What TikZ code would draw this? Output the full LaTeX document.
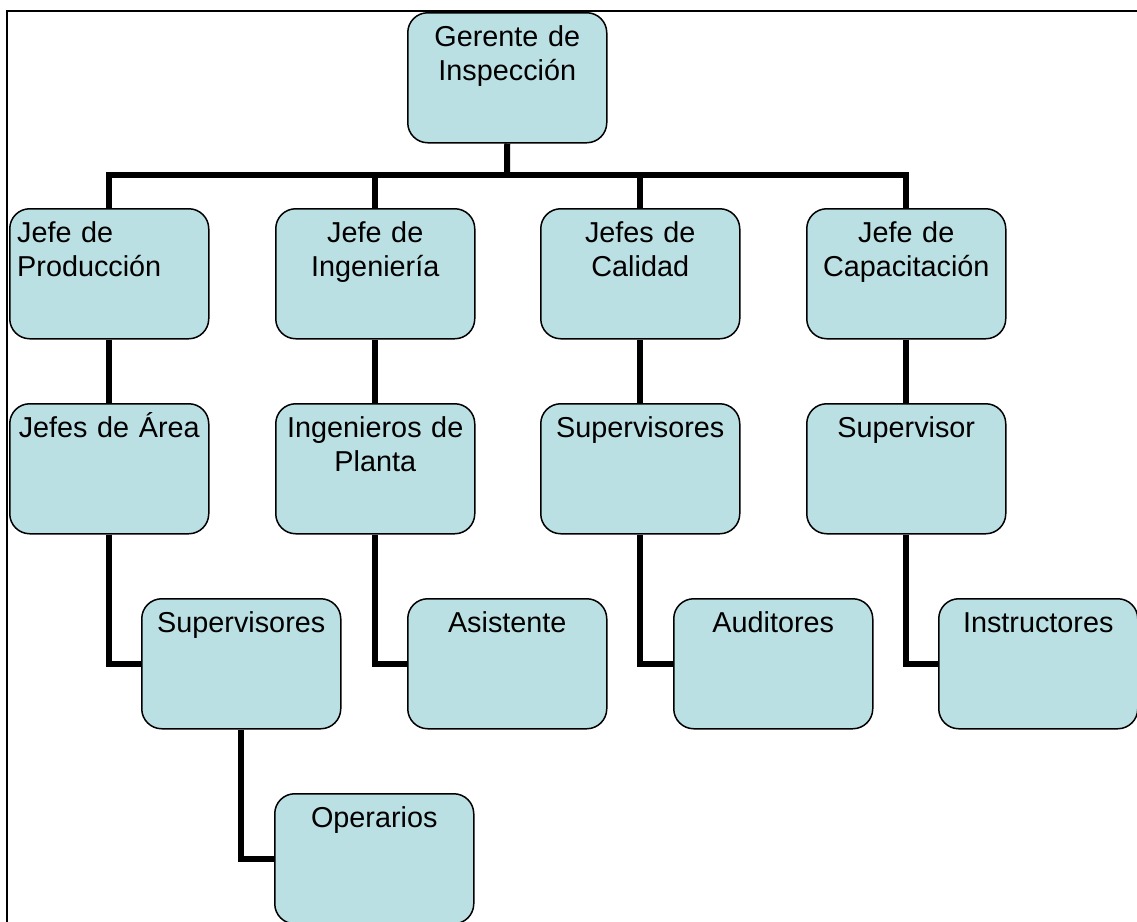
\documentclass[tikz,border=0pt]{standalone}
\usepackage{fontspec}
\setmainfont{Liberation Sans}
\definecolor{boxfill}{RGB}{187,224,227}
\tikzset{
  orgbox/.style={draw=black, line width=1.5pt, fill=boxfill, rounded corners=20pt,
    minimum width=199pt, minimum height=130pt, inner sep=0pt, anchor=north west},
  tag/.style={font=\fontsize{28.8}{34}\selectfont, align=center, text width=199pt,
    inner sep=0pt, anchor=base, yshift=-34pt},
  link/.style={draw=black, line width=6pt, line join=miter},
  frame/.style={draw=black, line width=2pt}
}
\begin{document}
\begin{tikzpicture}[x=1pt,y=-1pt]
  \useasboundingbox (0,0) rectangle (1137,921);
  \clip (0,0) rectangle (1137,921);
  % outer frame (top and left edges)
  \draw[frame] (7,925) -- (7,11) -- (1138,11);

  % boxes
  \node[orgbox] (ger)  at (407,12)  {};
  \node[orgbox] (prod) at (9,208)   {};
  \node[orgbox] (ing)  at (275,208) {};
  \node[orgbox] (cal)  at (540,208) {};
  \node[orgbox] (cap)  at (806,208) {};
  \node[orgbox] (area) at (9,403)   {};
  \node[orgbox] (iplt) at (275,403) {};
  \node[orgbox] (sup)  at (540,403) {};
  \node[orgbox] (supc) at (806,403) {};
  \node[orgbox] (supa) at (141,598) {};
  \node[orgbox] (asis) at (407,598) {};
  \node[orgbox] (aud)  at (673,598) {};
  \node[orgbox] (ins)  at (938,598) {};
  \node[orgbox] (ope)  at (274,793) {};

  % connectors
  \coordinate (bus) at (507,175);
  \draw[link] (ger.south) -- (bus);
  \draw[link] (prod.north) |- (bus) -| (cap.north);
  \draw[link] (ing.north) |- (bus);
  \draw[link] (cal.north) |- (bus);
  \draw[link] (prod.south) -- (area.north);
  \draw[link] (ing.south) -- (iplt.north);
  \draw[link] (cal.south) -- (sup.north);
  \draw[link] (cap.south) -- (supc.north);
  \draw[link] (area.south) |- (supa.west);
  \draw[link] (iplt.south) |- (asis.west);
  \draw[link] (sup.south) |- (aud.west);
  \draw[link] (supc.south) |- (ins.west);
  \draw[link] (supa.south) |- (ope.west);

  % texts
  \node[tag] (ger-t)  at (ger.north)  {Gerente de\\Inspección};
  \node[tag, align=left, anchor=base west, text width=191pt] (prod-t) at ([xshift=8pt]prod.north west) {Jefe de\\Producción};
  \node[tag] (ing-t)  at (ing.north)  {Jefe de\\Ingeniería};
  \node[tag] (cal-t)  at (cal.north)  {Jefes de\\Calidad};
  \node[tag] (cap-t)  at (cap.north)  {Jefe de\\Capacitación};
  \node[tag] (area-t) at (area.north) {Jefes de Área};
  \node[tag] (iplt-t) at (iplt.north) {Ingenieros de\\Planta};
  \node[tag] (sup-t)  at (sup.north)  {Supervisores};
  \node[tag] (supc-t) at (supc.north) {Supervisor};
  \node[tag] (supa-t) at (supa.north) {Supervisores};
  \node[tag] (asis-t) at (asis.north) {Asistente};
  \node[tag] (aud-t)  at (aud.north)  {Auditores};
  \node[tag] (ins-t)  at (ins.north)  {Instructores};
  \node[tag] (ope-t)  at (ope.north)  {Operarios};
\end{tikzpicture}
\end{document}
